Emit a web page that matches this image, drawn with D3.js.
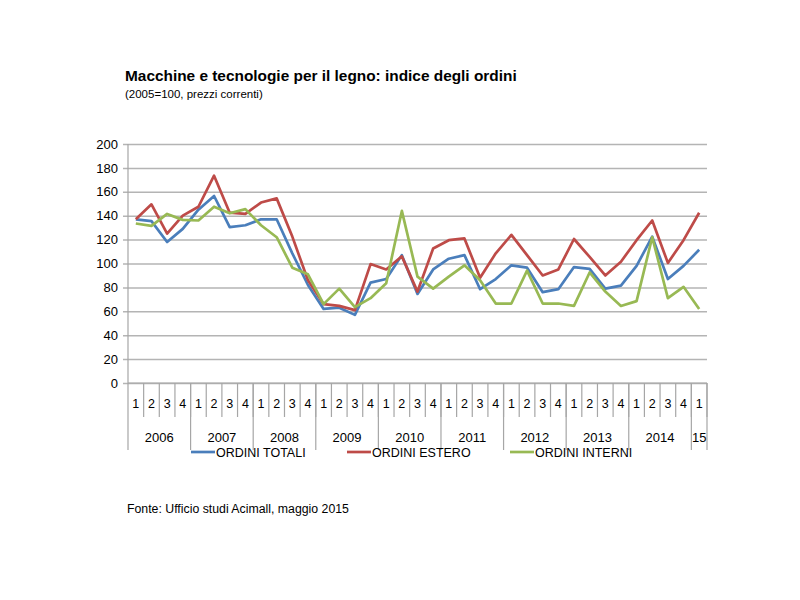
<!DOCTYPE html>
<html>
<head>
<meta charset="utf-8">
<script src="https://cdn.jsdelivr.net/npm/d3@7"></script>
<style>
  body { margin: 0; background: #fff; }
  svg { font-family: "Liberation Sans", Arial, sans-serif; }
</style>
</head>
<body>
<div id="chart"></div>
<script>
const quarters = ["1","2","3","4","1","2","3","4","1","2","3","4","1","2","3","4",
  "1","2","3","4","1","2","3","4","1","2","3","4","1","2","3","4","1","2","3","4","1"];
const years = ["2006","2007","2008","2009","2010","2011","2012","2013","2014","15"];
const quartersPerYear = [4, 4, 4, 4, 4, 4, 4, 4, 4, 1];

const ordiniTotali = [137, 135.5, 118, 129, 145, 156.5, 130.5, 132,
  137, 137, 108.5, 82, 62, 63, 57, 84,
  87, 107, 74.5, 95, 104, 107, 78.5, 87,
  98.5, 96.5, 76, 78.5, 97, 95.5, 79, 81.5,
  98, 122.5, 87, 98, 111.5];
const ordiniEstero = [137, 149.5, 125, 140, 147.5, 173.5, 142.5, 141.5,
  151, 154.5, 122.5, 86, 66, 64.5, 61, 99.5,
  95, 106, 76.5, 112.5, 119.5, 121, 88, 108.5,
  124, 107, 90, 95, 120.5, 105.5, 90, 101.5,
  119.5, 136, 100.5, 119.5, 142.5];
const ordiniInterni = [133.5, 131.5, 141.5, 136.5, 136, 147.5, 142, 145.5,
  132, 122, 96.5, 91, 66, 79, 63.5, 71,
  83.5, 144, 89, 79, 89, 98.5, 86, 66.5,
  66.5, 94, 66.5, 66.5, 64.5, 92.5, 76.5, 64.5,
  68.5, 122, 71, 80.5, 62];
const yTicks = [0, 20, 40, 60, 80, 100, 120, 140, 160, 180, 200];

const series = [
  { name: "ORDINI TOTALI", values: ordiniTotali, color: "#4a7ebb" },
  { name: "ORDINI ESTERO", values: ordiniEstero, color: "#be4b48" },
  { name: "ORDINI INTERNI", values: ordiniInterni, color: "#98b954" }
];

const width = 800, height = 600;
const plot = { left: 128, right: 707, top: 144, bottom: 383 };

const svg = d3.select("#chart").append("svg")
  .attr("width", width)
  .attr("height", height);

const x = d3.scaleBand()
  .domain(d3.range(quarters.length))
  .range([plot.left, plot.right]);

const y = d3.scaleLinear()
  .domain([0, 200])
  .range([plot.bottom, plot.top]);

// title
svg.append("text")
  .attr("x", 125).attr("y", 81)
  .attr("font-size", "15.4px").attr("font-weight", "bold")
  .text("Macchine e tecnologie per il legno: indice degli ordini");
svg.append("text")
  .attr("x", 125).attr("y", 98)
  .attr("font-size", "11.5px")
  .text("(2005=100, prezzi correnti)");

// gridlines + y axis
svg.append("g")
  .attr("transform", "translate(" + plot.left + ",0)")
  .call(d3.axisLeft(y).tickValues(yTicks).tickSize(-(plot.right - plot.left)).tickPadding(10).tickSizeOuter(0))
  .call(g => g.select(".domain").remove())
  .call(g => g.selectAll(".tick line").attr("stroke", "#b4b4b4").attr("stroke-width", 1.5).attr("x1", -5))
  .call(g => g.selectAll(".tick text").attr("font-size", "13px").attr("fill", "#000")
    .attr("font-family", "Liberation Sans, Arial, sans-serif"));

// y axis line
svg.append("line")
  .attr("x1", plot.left).attr("x2", plot.left)
  .attr("y1", plot.top).attr("y2", 450)
  .attr("stroke", "#a6a6a6").attr("stroke-width", 1.2);

// category axis: quarter ticks and labels
const xAxis = svg.append("g").attr("class", "x axis");
xAxis.selectAll(".qtick")
  .data(d3.range(1, quarters.length + 1))
  .enter().append("line")
  .attr("x1", i => i < quarters.length ? x(i) : plot.right)
  .attr("x2", i => i < quarters.length ? x(i) : plot.right)
  .attr("y1", plot.bottom).attr("y2", 417)
  .attr("stroke", "#a6a6a6").attr("stroke-width", 1.2);

xAxis.selectAll(".qlabel")
  .data(quarters)
  .enter().append("text")
  .attr("x", (d, i) => x(i) + x.bandwidth() / 2)
  .attr("y", 408)
  .attr("text-anchor", "middle")
  .attr("font-size", "12.5px")
  .text(d => d);

// year groups
let start = 0;
const groups = years.map((yr, k) => {
  const g = { label: yr, start: start, end: start + quartersPerYear[k] };
  start += quartersPerYear[k];
  return g;
});

xAxis.selectAll(".ysep")
  .data(groups)
  .enter().append("line")
  .attr("x1", g => g.end < quarters.length ? x(g.end) : plot.right)
  .attr("x2", g => g.end < quarters.length ? x(g.end) : plot.right)
  .attr("y1", plot.bottom).attr("y2", 450)
  .attr("stroke", "#a6a6a6").attr("stroke-width", 1.2);

xAxis.selectAll(".ylabel")
  .data(groups)
  .enter().append("text")
  .attr("x", g => (x(g.start) + (g.end < quarters.length ? x(g.end) : plot.right)) / 2)
  .attr("y", 442)
  .attr("text-anchor", "middle")
  .attr("font-size", "13px")
  .text(g => g.label);

// x axis baseline
svg.append("line")
  .attr("x1", plot.left).attr("x2", plot.right)
  .attr("y1", plot.bottom).attr("y2", plot.bottom)
  .attr("stroke", "#a6a6a6").attr("stroke-width", 1.2);

// lines
const line = d3.line()
  .x((d, i) => x(i) + x.bandwidth() / 2)
  .y(d => y(d));

svg.selectAll(".series")
  .data(series)
  .enter().append("path")
  .attr("class", "series")
  .attr("d", s => line(s.values))
  .attr("fill", "none")
  .attr("stroke", s => s.color)
  .attr("stroke-width", 2.7)
  .attr("stroke-linejoin", "round");

// legend
const legendX = [191, 347, 510];
const legend = svg.selectAll(".legend")
  .data(series)
  .enter().append("g")
  .attr("transform", (s, i) => "translate(" + legendX[i] + ",452)");
legend.append("line")
  .attr("x1", 0).attr("x2", 24)
  .attr("stroke", s => s.color).attr("stroke-width", 2.7);
legend.append("text")
  .attr("x", 25).attr("y", 4.5)
  .attr("font-size", "12.5px")
  .text(s => s.name);

// source
svg.append("text")
  .attr("x", 127).attr("y", 513)
  .attr("font-size", "12.3px")
  .text("Fonte: Ufficio studi Acimall, maggio 2015");
</script>
</body>
</html>
